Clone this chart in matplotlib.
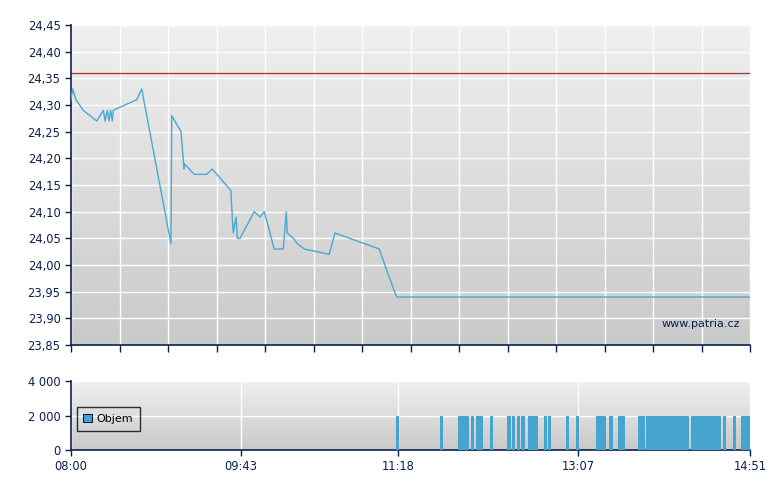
import matplotlib.pyplot as plt
import numpy as np

# price series: minutes after 08:00 and price
price_minutes = [0, 1.0, 3.0, 7.4, 15.6, 19.6, 20.6, 22.0, 23.0, 24.0, 25.0, 25.6, 39.8, 42.8,
                 60.5, 61.0, 66.6, 68.4, 68.6, 74.6, 82.1, 85.5, 96.7, 98.2, 99.9, 100.7,
                 102.3, 110.9, 114.4, 117.0, 123.0, 128.5, 130.3, 130.9, 134.6, 137.0, 141.2,
                 156.3, 159.8, 186.6, 191.1, 192.3, 197.1, 411]
price_values = [24.31, 24.33, 24.31, 24.29, 24.27, 24.29, 24.27, 24.29, 24.27, 24.29, 24.27, 24.29,
                24.31, 24.33, 24.04, 24.28, 24.25, 24.18, 24.19, 24.17, 24.17, 24.18, 24.14,
                24.06, 24.09, 24.05, 24.05, 24.10, 24.09, 24.10, 24.03, 24.03, 24.10, 24.06,
                24.05, 24.04, 24.03, 24.02, 24.06, 24.03, 23.99, 23.98, 23.94, 23.94]
prev_close = 24.36

# volume bars: start minute after 08:00
volume_minutes = [196.7, 223.4, 234.3, 236.3, 238.7, 242.1, 245.2, 247.2, 253.5, 264.1, 266.9,
                  270.0, 272.6, 276.6, 278.6, 280.6, 286.3, 288.7, 299.6, 305.7, 317.8, 319.8,
                  321.8, 325.9, 331.1, 333.1, 343.2, 345.2,
                  348, 350, 352, 354, 356, 358, 360, 362, 364, 366, 368, 370, 372,
                  375.3, 377.3, 379.3, 381.3, 383.3, 385.3, 387.3, 389.3, 391.3,
                  394.7, 400.7, 405.5, 407.5, 409.5]
volume_values = [2000] * len(volume_minutes)

time_labels = ["08:00", "09:43", "11:18", "13:07", "14:51"]
time_label_minutes = [0, 103, 198, 307, 411]
price_ticks = [23.85, 23.90, 23.95, 24.00, 24.05, 24.10, 24.15, 24.20, 24.25, 24.30, 24.35, 24.40, 24.45]
volume_ticks = [0, 2000, 4000]

navy = "#0b1f4e"
line_blue = "#4aa8d2"
plt.rcParams['font.family'] = ['DejaVu Sans']

fig = plt.figure(figsize=(7.8, 4.9), dpi=100)
ax = fig.add_axes([71 / 780, 1 - 345 / 490, 679 / 780, 320 / 490])
axv = fig.add_axes([71 / 780, 1 - 450 / 490, 679 / 780, 69 / 490])

# vertical grey gradient, light at top
shade = np.linspace(0.94, 0.79, 256)
gradient = np.repeat(shade[:, None, None], 3, axis=2)
for a in (ax, axv):
    a.imshow(gradient, extent=[0, 1, 0, 1], transform=a.transAxes, aspect="auto", zorder=0)
    for side in ("top", "right"):
        a.spines[side].set_visible(False)
    for side in ("left", "bottom"):
        a.spines[side].set_color(navy)
        a.spines[side].set_linewidth(1.2)
    a.tick_params(colors=navy, labelcolor=navy, labelsize=8.3, length=4, width=1)
    a.set_xlim(0, 411)

# price chart
ax.set_ylim(23.85, 24.45)
ax.set_yticks(price_ticks)
ax.set_yticklabels([f"{v:.2f}".replace(".", ",") for v in price_ticks])
ax.set_xticks(np.linspace(0, 411, 15))
ax.set_xticklabels([])
ax.tick_params(axis="x", length=5)
ax.grid(True, color="white", linewidth=1, zorder=1)
ax.set_axisbelow(True)
ax.axhline(prev_close, color="#a83232", linewidth=0.9, zorder=2)
ax.plot(price_minutes, price_values, color=line_blue, linewidth=1.0, zorder=3)
ax.text(0.985, 0.065, "www.patria.cz", transform=ax.transAxes, ha="right", va="center",
        color=navy, fontsize=8)

# volume chart
axv.set_ylim(0, 4000)
axv.set_yticks(volume_ticks)
axv.set_yticklabels([f"{v:,}".replace(",", " ") for v in volume_ticks])
axv.set_xticks(time_label_minutes)
axv.set_xticklabels(time_labels)
axv.grid(True, color="white", linewidth=1, zorder=1)
axv.set_axisbelow(True)
axv.bar(volume_minutes, volume_values, width=2.0, align="edge", color="#45a5ce",
        linewidth=0, zorder=3, label="Objem")
leg = axv.legend(loc="center left", bbox_to_anchor=(0.0, 0.45), fontsize=8, frameon=True,
                 fancybox=False, handlelength=0.8, handleheight=0.8, handletextpad=0.4,
                 borderpad=0.6, labelcolor="black")
leg.get_frame().set_edgecolor("black")
leg.get_frame().set_facecolor("none")
leg.get_frame().set_linewidth(1)
leg.legend_handles[0].set_edgecolor(navy)
leg.legend_handles[0].set_linewidth(0.8)

fig.savefig("out.png", dpi=100)
